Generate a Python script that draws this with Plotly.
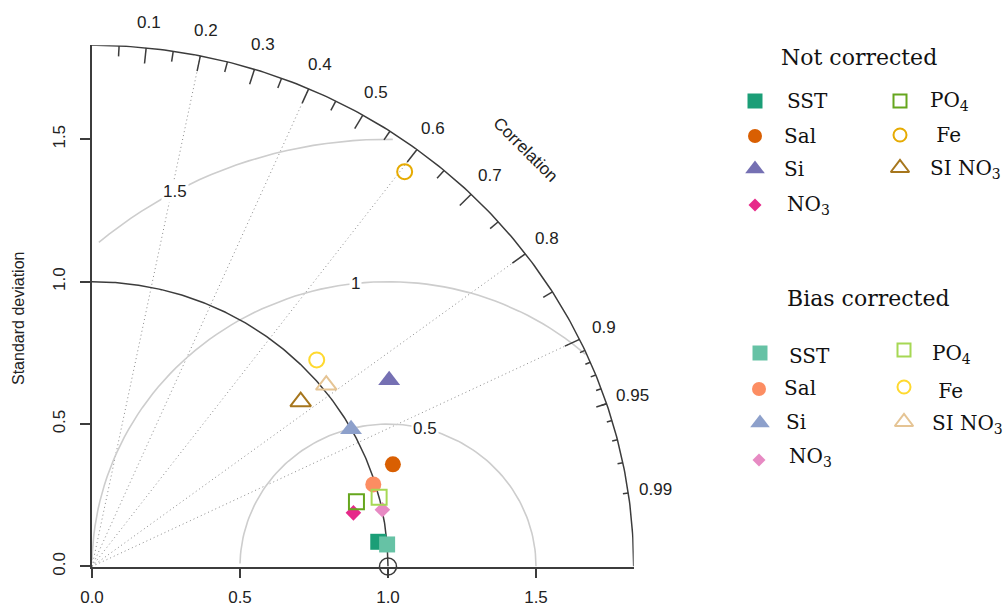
import numpy as np
import plotly.graph_objects as go

# ---------------- data ----------------
variables = ["SST", "Sal", "Si", "NO3", "PO4", "Fe", "SI NO3"]
legend_labels = ["SST", "Sal", "Si", "NO<sub>3</sub>", "PO<sub>4</sub>", " Fe", "SI NO<sub>3</sub>"]

sd_not_corrected = [0.971, 1.078, 1.198, 0.903, 0.922, 1.743, 0.912]
corr_not_corrected = [0.996, 0.943, 0.838, 0.978, 0.969, 0.606, 0.773]

sd_bias_corrected = [1.000, 0.993, 0.999, 1.001, 1.000, 1.050, 1.016]
corr_bias_corrected = [0.997, 0.957, 0.876, 0.980, 0.970, 0.723, 0.779]

colors_not_corrected = ["#1B9E77", "#D95F02", "#7570B3", "#E7298A", "#66A61E", "#E6AB02", "#A6761D"]
colors_bias_corrected = ["#66C2A5", "#FC8D62", "#8DA0CB", "#E78AC3", "#A6D854", "#FFD92F", "#E5C494"]
symbols = ["square", "circle", "triangle-up", "diamond", "square-open", "circle-open", "triangle-up-open"]

ref_sd = 1.0
max_sd = 1.83
rms_levels = [0.5, 1, 1.5]
corr_label_values = [0.1, 0.2, 0.3, 0.4, 0.5, 0.6, 0.7, 0.8, 0.9, 0.95, 0.99]
corr_grid_values = [0.2, 0.4, 0.6, 0.8, 0.9]
sd_tick_values = [0.0, 0.5, 1.0, 1.5]
sd_tick_text = ["0.0", "0.5", "1.0", "1.5"]

# ---------------- styling / geometry ----------------
W, H = 1006, 608
SANS = "Liberation Sans, Arial, sans-serif"
SERIF = "DejaVu Serif, serif"
DARK = "#3c3c3c"
CONTOUR = "#cdcdcd"
DOT = "#8a8a8a"
ORIGIN_PX, ORIGIN_PY = 92.0, 566.5
SCALE_X, SCALE_Y = 296.0, 284.8


def to_px(x, y):
    return ORIGIN_PX + x * SCALE_X, ORIGIN_PY - y * SCALE_Y


fig = go.Figure()


def polar_xy(sd, corr):
    sd = np.asarray(sd, float)
    ang = np.arccos(np.asarray(corr, float))
    return sd * np.cos(ang), sd * np.sin(ang)


# correlation grid lines (dotted)
gx, gy = [], []
for c in corr_grid_values:
    a = np.arccos(c)
    gx += [0, max_sd * np.cos(a), None]
    gy += [0, max_sd * np.sin(a), None]
fig.add_trace(go.Scatter(x=gx, y=gy, mode="lines", line=dict(color=DOT, width=1, dash="1px,3px"),
                         hoverinfo="skip", showlegend=False))

# RMS contours (centred on reference point), clipped at max_sd like plotrix
t = np.arange(0, np.pi, 0.03)
cx, cy = [], []
label_idx = [int(v) for v in np.linspace(45, 70, len(rms_levels))]
rms_label_pos = []
for g, li in zip(rms_levels, label_idx):
    xc = np.cos(t) * g + ref_sd
    yc = np.sin(t) * g
    neg = np.where(xc < 0)[0]
    end = neg.min() if len(neg) else len(t)
    out = np.where(xc ** 2 + yc ** 2 > max_sd ** 2)[0]
    start = out.max() + 1 if len(out) else 0
    cx += list(xc[start:end]) + [None]
    cy += list(yc[start:end]) + [None]
    rms_label_pos.append((xc[li - 1], yc[li - 1]))
fig.add_trace(go.Scatter(x=cx, y=cy, mode="lines", line=dict(color=CONTOUR, width=1.6),
                         hoverinfo="skip", showlegend=False))

# outer arc and reference sd arc
ta = np.linspace(0, np.pi / 2, 200)
fig.add_trace(go.Scatter(x=list(max_sd * np.cos(ta)) + [None] + list(ref_sd * np.cos(ta)),
                         y=list(max_sd * np.sin(ta)) + [None] + list(ref_sd * np.sin(ta)),
                         mode="lines", line=dict(color=DARK, width=1.5),
                         hoverinfo="skip", showlegend=False, cliponaxis=False))

# correlation tick marks
tx, ty = [], []
for vals, frac in [(np.arange(0.1, 0.95, 0.1), 0.97), (np.arange(0.05, 1.0, 0.1), 0.98),
                   (np.arange(0.91, 0.995, 0.01), 0.99)]:
    for c in vals:
        a = np.arccos(c)
        tx += [max_sd * np.cos(a), frac * max_sd * np.cos(a), None]
        ty += [max_sd * np.sin(a), frac * max_sd * np.sin(a), None]
fig.add_trace(go.Scatter(x=tx, y=ty, mode="lines", line=dict(color=DARK, width=1.5),
                         hoverinfo="skip", showlegend=False))

# reference point
fig.add_trace(go.Scatter(x=[ref_sd], y=[0], mode="markers", cliponaxis=False,
                         marker=dict(symbol="circle-open", size=17, color=DARK, line=dict(width=1.5)),
                         hoverinfo="skip", showlegend=False))

sizes = {"square": 16, "circle": 16, "triangle-up": 19, "diamond": 12,
         "square-open": 15, "circle-open": 15, "triangle-up-open": 18}


def add_points(sds, corrs, colors):
    xs, ys = polar_xy(sds, corrs)
    for i in range(len(variables)):
        fig.add_trace(go.Scatter(x=[xs[i]], y=[ys[i]], mode="markers", cliponaxis=False,
                                 marker=dict(symbol=symbols[i], size=sizes[symbols[i]], color=colors[i],
                                             line=dict(width=2 if "open" in symbols[i] else 0,
                                                       color=colors[i])),
                                 name=variables[i], showlegend=False))


add_points(sd_not_corrected, corr_not_corrected, colors_not_corrected)
add_points(sd_bias_corrected, corr_bias_corrected, colors_bias_corrected)

annotations = []
# correlation labels (placed in pixel space so they may sit outside the axis range)
for c in corr_label_values:
    a = np.arccos(c)
    lx, ly = to_px(1.05 * max_sd * np.cos(a), 1.05 * max_sd * np.sin(a))
    annotations.append(dict(x=lx, y=ly, xref="x2", yref="y2",
                            text=f"{c:g}", showarrow=False, font=dict(family=SANS, size=17, color="#222"),
                            xanchor="center", yanchor="middle"))
lx, ly = to_px(0.8 * max_sd, 0.8 * max_sd)
annotations.append(dict(x=lx, y=ly, xref="x2", yref="y2", text="Correlation",
                        showarrow=False, textangle=45, font=dict(family=SANS, size=17, color="#222")))
# RMS labels
for g, (gx_, gy_) in zip(rms_levels, rms_label_pos):
    lx, ly = to_px(gx_, gy_)
    annotations.append(dict(x=lx, y=ly, xref="x2", yref="y2", text=f"{g:g}", showarrow=False,
                            bgcolor="white", borderpad=1,
                            font=dict(family=SANS, size=17, color="#222")))
# y-axis title
annotations.append(dict(x=18, y=319, xref="x2", yref="y2", text="Standard deviation", showarrow=False,
                        textangle=-90, font=dict(family=SANS, size=16, color="#222")))

# ---------------- legend (pixel coordinates on x2/y2) ----------------
legend_blocks = [
    ("Not corrected", colors_not_corrected, 859, 57,
     [(755, 101), (755, 136), (755, 169), (755, 205), (900, 101), (900, 135), (900, 168)],
     [(785, 101), (782, 136), (782, 169), (785, 205), (928, 101), (928, 135), (928, 169)]),
    ("Bias corrected", colors_bias_corrected, 868, 298,
     [(760, 353), (759, 389), (760, 423), (759, 460), (904, 350), (904, 387), (904, 422)],
     [(787, 356), (782, 388), (784, 422), (787, 457), (930, 354), (930, 391), (930, 424)]),
]
leg_sizes = {"square": 15, "circle": 14, "triangle-up": 17, "diamond": 10,
             "square-open": 13, "circle-open": 13, "triangle-up-open": 16}
for title, cols, tx0, ty0, mpos, lpos in legend_blocks:
    annotations.append(dict(x=tx0, y=ty0, xref="x2", yref="y2", text=title, showarrow=False,
                            xanchor="center", yanchor="middle", font=dict(family=SERIF, size=22, color="#111")))
    for i in range(len(variables)):
        fig.add_trace(go.Scatter(x=[mpos[i][0]], y=[mpos[i][1]], xaxis="x2", yaxis="y2", mode="markers",
                                 marker=dict(symbol=symbols[i], size=leg_sizes[symbols[i]], color=cols[i],
                                             line=dict(width=2 if "open" in symbols[i] else 0, color=cols[i])),
                                 hoverinfo="skip", showlegend=False))
        annotations.append(dict(x=lpos[i][0], y=lpos[i][1], xref="x2", yref="y2", text=legend_labels[i],
                                showarrow=False, xanchor="left", yanchor="middle",
                                font=dict(family=SERIF, size=20, color="#111")))

x0, x1 = to_px(0, 0)[0], to_px(max_sd, 0)[0]
y0, y1 = to_px(0, 0)[1], to_px(0, max_sd)[1]
axis_common = dict(showgrid=False, zeroline=False, showline=True, linecolor=DARK, linewidth=1.5,
                   ticks="outside", ticklen=10, tickwidth=1.5, tickcolor=DARK,
                   tickvals=sd_tick_values, ticktext=sd_tick_text, range=[0, max_sd],
                   tickfont=dict(family=SANS, size=17, color="#222"), automargin=False)
fig.update_layout(
    width=W, height=H, margin=dict(l=0, r=0, t=0, b=0),
    paper_bgcolor="white", plot_bgcolor="rgba(0,0,0,0)",
    xaxis=dict(domain=[x0 / W, x1 / W], ticklabelstandoff=4, **axis_common),
    yaxis=dict(domain=[(H - y0) / H, (H - y1) / H], tickangle=-90, ticklabelstandoff=8, **axis_common),
    xaxis2=dict(domain=[0, 1], range=[0, W], visible=False, anchor="y2"),
    yaxis2=dict(domain=[0, 1], range=[H, 0], visible=False, anchor="x2"),
    annotations=annotations,
    showlegend=False,
)

fig.write_html("out.html", config={"displayModeBar": False},
               post_script="document.body.style.margin='0';document.body.style.overflow='hidden';")
